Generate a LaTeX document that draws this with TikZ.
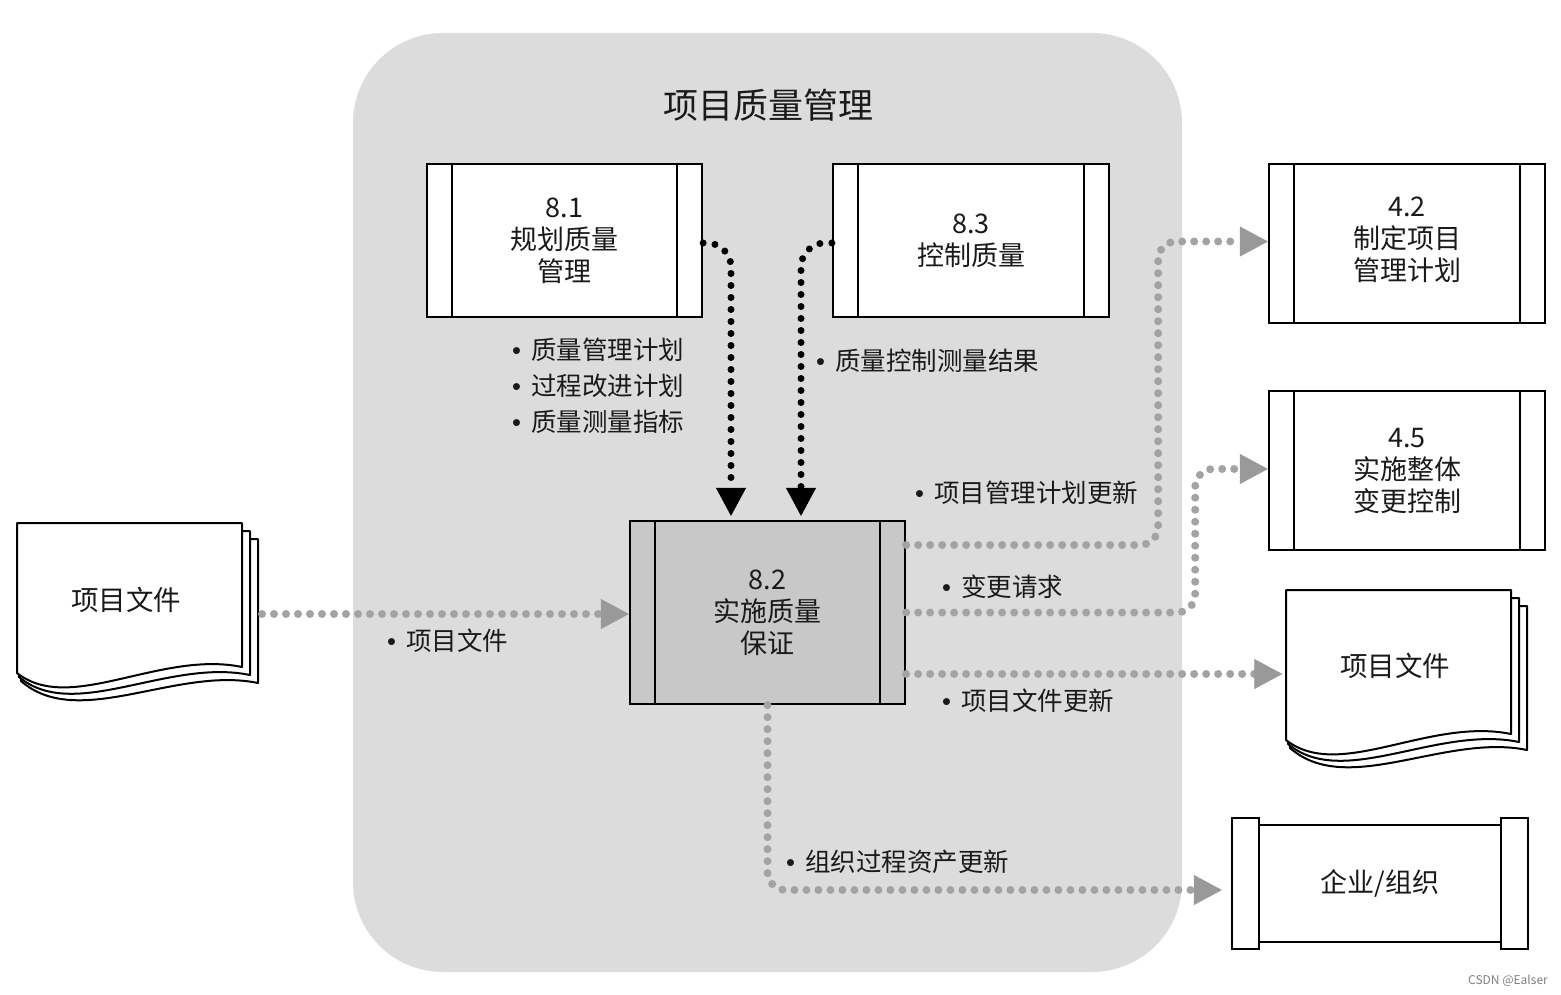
\documentclass[tikz,border=0pt]{standalone}
\usepackage{fontspec}
\setmainfont{Noto Sans CJK SC}
\newfontfamily\bulfont{Liberation Sans}
\newcommand\bul{{\bulfont •}\hspace{10pt}}
\usetikzlibrary{arrows.meta}
\definecolor{regiongray}{HTML}{DCDCDC}
\definecolor{procgray}{HTML}{C8C8C8}
\definecolor{dotgray}{HTML}{A3A3A3}
\definecolor{tipgray}{HTML}{999999}
\definecolor{ink}{HTML}{1A1A1A}
\newcommand\docstack[2]{%
  \begin{scope}[shift={(#1,#2)}]
    \foreach \k in {2,1,0} {
      \draw[sheet] (17,{523+8*\k}) -- ({242+8*\k},{523+8*\k}) -- ({242+8*\k},{667+8*\k})
        .. controls ({160+8*\k},{650+8*\k}) and ({70+4*\k},{715+8*\k}) .. ({17+2*\k},{673+4*\k}) -- cycle;
    }
  \end{scope}}
\begin{document}
\begin{tikzpicture}[x=1pt,y=-1pt,
  proc/.style={draw=black, line width=2.3pt, fill=white, align=center, inner sep=0pt,
    font=\fontsize{27}{32}\selectfont, text=ink},
  bar/.style={draw=black, line width=2.3pt, fill=white, inner sep=0pt, minimum width=27pt, minimum height=131pt},
  lbl/.style={anchor=west, inner sep=0pt, font=\fontsize{25.5}{36}\selectfont, align=left, text=ink},
  bflow/.style={draw=black, line width=7pt, dash pattern=on 0pt off 12pt, line cap=round, rounded corners=24pt,
    -{Triangle[length=28pt,width=30pt,line width=0.5pt]}},
  gflow/.style={draw=dotgray, line width=8pt, dash pattern=on 0pt off 12pt, line cap=round, rounded corners=18pt,
    -{Triangle[length=28pt,width=30pt,line width=0.5pt,color=tipgray]}},
  sheet/.style={draw=black, line width=2pt, fill=white, line join=round},
]
\useasboundingbox (0,0) rectangle (1561,995);
\fill[white] (0,0) rectangle (1561,995);

% region
\node[fill=regiongray, rounded corners=90pt, minimum width=829pt, minimum height=939pt, inner sep=0pt] (region) at (767.5,502.5) {};
\node[font=\fontsize{35}{40}\selectfont, text=ink] (title) at (768,105) {项目质量管理};

% process boxes
\node[proc, minimum width=275pt, minimum height=153pt] (b81) at (564.5,240.5) {8.1\\规划质量\\管理};
\node[proc, minimum width=276pt, minimum height=153pt] (b83) at (971,240.5) {8.3\\控制质量};
\node[proc, minimum width=276pt, minimum height=159pt] (b42) at (1407,243.5) {4.2\\制定项目\\管理计划\\[-23pt]};
\node[proc, minimum width=276pt, minimum height=159pt] (b45) at (1407,470.5) {4.5\\实施整体\\变更控制};
\node[proc, fill=procgray, minimum width=275pt, minimum height=183pt] (b82) at (767.5,612.5) {8.2\\实施质量\\保证};
\foreach \n in {b81,b83,b42,b45,b82} {
  \draw[line width=2.3pt] ([xshift=26pt]\n.north west) -- ([xshift=26pt]\n.south west);
  \draw[line width=2.3pt] ([xshift=-26pt]\n.north east) -- ([xshift=-26pt]\n.south east);
}

% enterprise
\node[proc, minimum width=242pt, minimum height=117pt] (ent) at (1380,883.5) {企业/组织};
\node[bar] (entL) at (1245.5,883.5) {};
\node[bar] (entR) at (1514.5,883.5) {};

% document stacks
\docstack{0}{0}
\docstack{1269}{67}
\node[font=\fontsize{27.5}{32}\selectfont, text=ink, minimum width=225pt, minimum height=150pt, inner sep=0pt] (docL) at (126,600) {项目文件};
\node[font=\fontsize{27.5}{32}\selectfont, text=ink, minimum width=225pt, minimum height=150pt, inner sep=0pt] (docR) at (1395,666) {项目文件};
\coordinate (docLout) at (262,614);

% black flows
\draw[bflow, shorten >=4pt] ([yshift=-2.5pt]b81.east) -| ([xshift=-36.5pt]b82.north);
\draw[bflow, shorten >=4pt] ([yshift=-2.5pt]b83.west) -| ([xshift=33.5pt]b82.north);

% gray flows
\draw[gflow] (docLout) -- (b82.west |- docLout);
\draw[gflow] ([yshift=67.5pt]b82.east) -- ++(252,0) |- ([yshift=2pt]b42.west);
\draw[gflow] (b82.east) -- ++(289,0) |- ([yshift=1.5pt]b45.west);
\draw[gflow] ([yshift=-61.5pt]b82.east) -- (docR.west |- 0,674);
\draw[gflow, shorten >=9pt] (b82.south) -- ++(0,120) |- ([yshift=-6.5pt]entL.west);

% labels
\node[lbl] (l81) at (512,386) {\bul 质量管理计划\\\bul 过程改进计划\\\bul 质量测量指标};
\node[lbl] (l83) at (816,361) {\bul 质量控制测量结果};
\node[lbl] (lpm) at (915,493) {\bul 项目管理计划更新};
\node[lbl] (lcr) at (942,587) {\bul 变更请求};
\node[lbl] (lpd) at (942,701) {\bul 项目文件更新};
\node[lbl] (lop) at (786,862) {\bul 组织过程资产更新};
\node[lbl] (lin) at (387,641) {\bul 项目文件};

\node[font=\fontsize{12}{14}\selectfont, text=gray] (wm) at (1508,981) {CSDN @Ealser};
\end{tikzpicture}
\end{document}
